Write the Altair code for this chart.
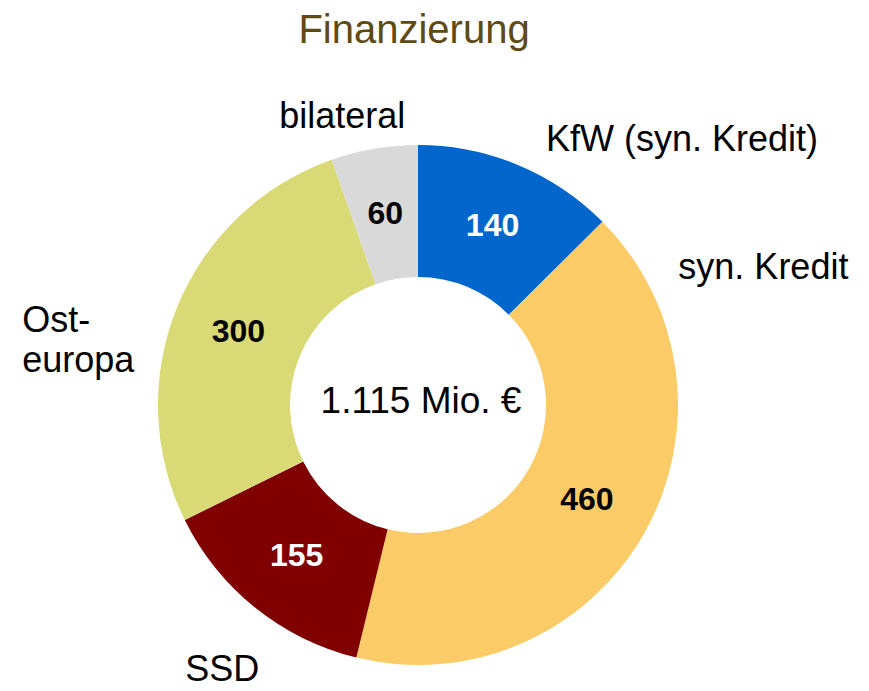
import altair as alt
import pandas as pd

cats = ["KfW", "syn. Kredit", "SSD", "Osteuropa", "bilateral"]
labels = ["KfW (syn. Kredit)", "syn. Kredit", "SSD", "Ost-\neuropa", "bilateral"]
values = [140, 460, 155, 300, 60]
colors = ["#0066CC", "#FBCB67", "#800000", "#D9DA76", "#D9D9D9"]
total_label = "1.115 Mio. €"
title_text = "Finanzierung"

df = pd.DataFrame({"cat": cats, "label": labels, "value": values, "order": list(range(len(cats)))})

FONT = "Liberation Sans"
CX, CY = 410, 397
R_OUT, R_IN = 260, 128

base = alt.Chart(df).encode(
    theta=alt.Theta("value:Q", stack=True),
    order=alt.Order("order:Q"),
    detail="cat:N",
)

arcs = base.mark_arc(radius=R_OUT, radius2=R_IN, stroke=None).encode(
    color=alt.Color("cat:N", scale=alt.Scale(domain=cats, range=colors), legend=None),
    x=alt.value(CX), y=alt.value(CY),
)

nums = base.mark_text(radius=194, font=FONT, fontSize=32, fontWeight="bold").encode(
    text=alt.Text("value:Q"),
    color=alt.condition("datum.cat == 'KfW' || datum.cat == 'SSD'", alt.value("white"), alt.value("black")),
    x=alt.value(CX), y=alt.value(CY),
)

offsets = {
    "KfW": (164, -25, "center"),
    "syn. Kredit": (119, -265, "center"),
    "SSD": (-33, 62, "center"),
    "Osteuropa": (-155, 14, "left"),
    "bilateral": (-32, -32, "center"),
}

label_layers = []
for c in cats:
    dx, dy, al = offsets[c]
    lyr = base.transform_calculate(
        lab=f"datum.cat == '{c}' ? datum.label : ''"
    ).mark_text(
        radius=R_OUT, dx=dx, dy=dy, align=al, baseline="middle",
        font=FONT, fontSize=36, color="black", lineBreak="\n", lineHeight=40,
    ).encode(text="lab:N", x=alt.value(CX), y=alt.value(CY))
    label_layers.append(lyr)

center = alt.Chart(pd.DataFrame({"t": [total_label]})).mark_text(
    font=FONT, fontSize=37, color="black", baseline="middle"
).encode(text="t:N", x=alt.value(CX + 3), y=alt.value(CY - 3))

title = alt.Chart(pd.DataFrame({"t": [title_text]})).mark_text(
    font=FONT, fontSize=40, color="#5E4A14", baseline="middle"
).encode(text="t:N", x=alt.value(CX - 4), y=alt.value(23))

chart = alt.layer(arcs, nums, *label_layers, center, title).properties(
    width=853, height=683, padding=0, autosize=alt.AutoSizeParams(type="none")
).configure_view(stroke=None)

chart.save("out.html", embed_options={"renderer": "svg", "actions": False})
